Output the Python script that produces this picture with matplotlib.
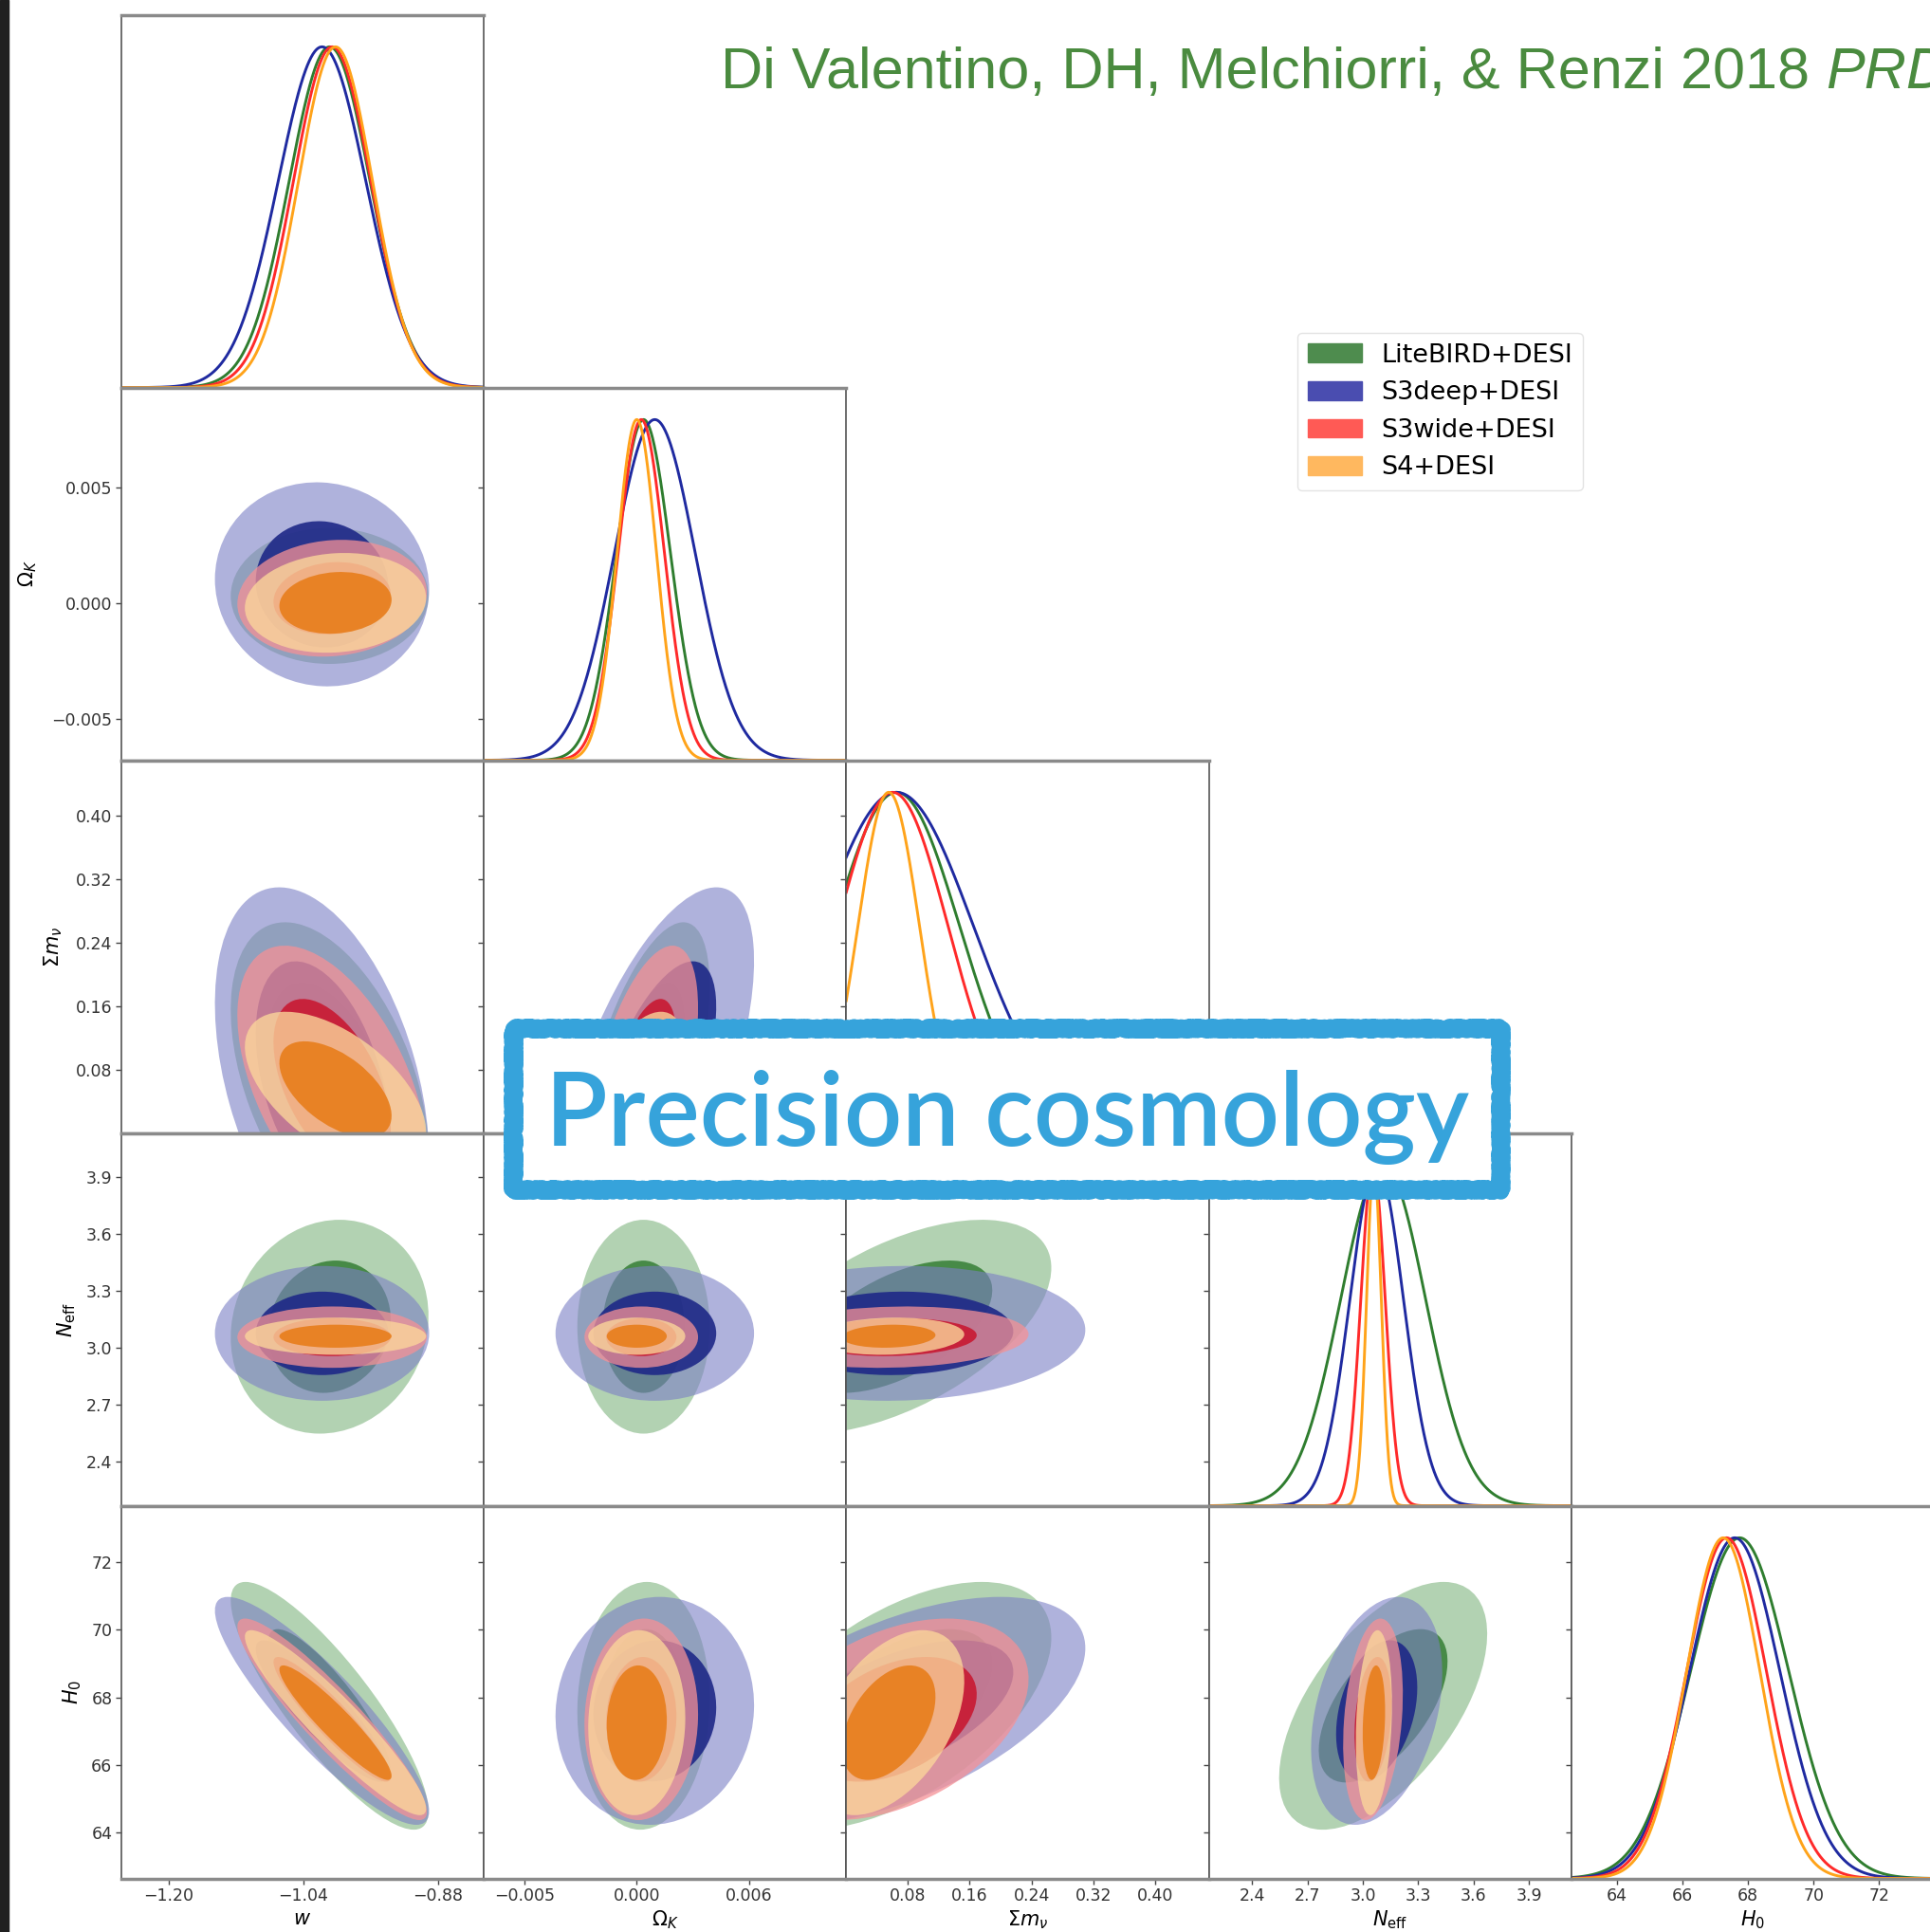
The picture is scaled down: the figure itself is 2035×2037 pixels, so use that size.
import numpy as np
import matplotlib
matplotlib.use('Agg')
import matplotlib.pyplot as plt
from matplotlib.patches import Ellipse, Rectangle, Patch

# parameters (rows/columns of the triangle)
param_labels = [r'$w$', r'$\Omega_K$', r'$\Sigma m_\nu$', r'$N_{\rm eff}$', r'$H_0$']
ranges = [(-1.257, -0.826), (-0.0068, 0.0093), (0.0, 0.47), (2.167, 4.13), (62.63, 73.68)]
ticks = [[-1.20, -1.04, -0.88], [-0.005, 0.0, 0.005], [0.08, 0.16, 0.24, 0.32, 0.40],
         [2.4, 2.7, 3.0, 3.3, 3.6, 3.9], [64, 66, 68, 70, 72]]
xtick_labels = [['\u22121.20', '\u22121.04', '\u22120.88'], ['\u22120.005', '0.000', '0.006'],
                ['0.08', '0.16', '0.24', '0.32', '0.40'], ['2.4', '2.7', '3.0', '3.3', '3.6', '3.9'],
                ['64', '66', '68', '70', '72']]
ytick_labels = [[], ['\u22120.005', '0.000', '0.005'], ['0.08', '0.16', '0.24', '0.32', '0.40'],
                ['2.4', '2.7', '3.0', '3.3', '3.6', '3.9'], ['64', '66', '68', '70', '72']]

datasets = ['LiteBIRD+DESI', 'S3deep+DESI', 'S3wide+DESI', 'S4+DESI']

# mean / sigma for (w, Omega_K, sum m_nu, N_eff, H0)
mean_litebird = [-1.009, 0.0003, 0.065, 3.11, 67.75]
mean_s3deep = [-1.018, 0.0008, 0.065, 3.075, 67.6]
mean_s3wide = [-1.006, 0.0002, 0.060, 3.055, 67.35]
mean_s4 = [-1.002, 0.0000, 0.055, 3.06, 67.25]

sigma_litebird = [0.048, 0.0012, 0.082, 0.23, 1.50]
sigma_s3deep = [0.052, 0.0018, 0.100, 0.145, 1.38]
sigma_s3wide = [0.046, 0.00103, 0.072, 0.066, 1.22]
sigma_s4 = [0.044, 0.00088, 0.040, 0.040, 1.12]

# correlations for the pairs below
pairs = [(1, 0), (2, 0), (2, 1), (3, 0), (3, 1), (3, 2), (4, 0), (4, 1), (4, 2), (4, 3)]
corr_litebird = [0.0, -0.45, 0.60, 0.10, 0.0, 0.55, -0.85, 0.05, 0.55, 0.58]
corr_s3deep = [-0.05, -0.40, 0.62, 0.0, 0.0, 0.05, -0.88, 0.05, 0.55, 0.33]
corr_s3wide = [0.10, -0.50, 0.55, 0.0, 0.0, 0.10, -0.92, 0.05, 0.40, 0.25]
corr_s4 = [0.10, -0.55, 0.50, 0.0, 0.0, 0.10, -0.93, 0.05, 0.45, 0.20]

means = [mean_litebird, mean_s3deep, mean_s3wide, mean_s4]
sigmas = [sigma_litebird, sigma_s3deep, sigma_s3wide, sigma_s4]
corrs = [dict(zip(pairs, c)) for c in [corr_litebird, corr_s3deep, corr_s3wide, corr_s4]]

outer_colors = ['#7fb47f', '#7b7fc5', '#f59196', '#fbd59a']
outer_alpha = [0.6, 0.6, 0.75, 0.8]
inner_colors = ['#3c823c', '#1e2887', '#c81932', '#e88020']
inner_alpha = [0.9, 0.9, 0.9, 0.95]
line_colors = ['#2f7d2f', '#1f2aa0', '#ff2a2a', '#ffa31a']
legend_colors = ['#4e8c4e', '#4a4db0', '#ff5a55', '#ffb85f']

R1, R2 = 1.515, 2.448   # 68% / 95% radii for 2D gaussian

W, H = 2035.0, 2037.0
col_left0, col_w = 127.5, 382.4
row_top0, row_h = 15.6, 393.0
ylabel_x = [0, -0.225, -0.155, -0.119, -0.102]
DIAG_TOP = 1.094

plt.rcParams['font.family'] = ['DejaVu Sans']
plt.rcParams['mathtext.fontset'] = 'dejavusans'

fig = plt.figure(figsize=(20.35, 20.37), dpi=100)


def ellipse(ax, mx, my, sx, sy, rho, r, **kw):
    cov = np.array([[sx * sx, rho * sx * sy], [rho * sx * sy, sy * sy]])
    vals, vecs = np.linalg.eigh(cov)
    ang = np.degrees(np.arctan2(vecs[1, 1], vecs[0, 1]))
    e = Ellipse((mx, my), 2 * r * np.sqrt(vals[1]), 2 * r * np.sqrt(vals[0]), angle=ang, lw=0, **kw)
    ax.add_patch(e)


n = 5
for i in range(n):
    for j in range(i + 1):
        left = (col_left0 + j * col_w) / W
        bottom = 1 - (row_top0 + (i + 1) * row_h) / H
        ax = fig.add_axes([left, bottom, col_w / W, row_h / H])
        ax.set_xlim(ranges[j])
        ax.set_xticks(ticks[j])
        if i == n - 1:
            ax.set_xticklabels(xtick_labels[j])
            ax.set_xlabel(param_labels[j], fontsize=15)
            ax.xaxis.set_label_coords(0.5, -0.082)
        else:
            ax.set_xticklabels([])

        if i == j:
            x = np.linspace(ranges[j][0], ranges[j][1], 600)
            for k in range(4):
                y = np.exp(-0.5 * ((x - means[k][j]) / sigmas[k][j]) ** 2)
                ax.plot(x, y, color=line_colors[k], lw=2.1)
            ax.set_ylim(0, DIAG_TOP)
            if i == 0:
                ax.set_yticks([])
            else:
                lo, hi = ranges[i]
                ax.set_yticks([(t - lo) / (hi - lo) * DIAG_TOP for t in ticks[i]])
                ax.set_yticklabels([])
        else:
            ax.set_ylim(ranges[i])
            ax.set_yticks(ticks[i])
            for k in range(4):
                mx, my = means[k][j], means[k][i]
                sx, sy = sigmas[k][j], sigmas[k][i]
                rho = corrs[k][(i, j)]
                ellipse(ax, mx, my, sx, sy, rho, R2, facecolor=outer_colors[k], alpha=outer_alpha[k])
                ellipse(ax, mx, my, sx, sy, rho, R1, facecolor=inner_colors[k], alpha=inner_alpha[k])
            if j == 0:
                ax.set_yticklabels(ytick_labels[i])
                ax.set_ylabel(param_labels[i], fontsize=15)
                ax.yaxis.set_label_coords(ylabel_x[i], 0.5)
            else:
                ax.set_yticklabels([])

        ax.tick_params(direction='out', length=4, width=1, colors='#444444',
                       labelsize=12.5, labelcolor='#333333', pad=2.5)
        for s in ['left', 'right']:
            ax.spines[s].set_color('#555555')
            ax.spines[s].set_linewidth(1.2)
        for s in ['top', 'bottom']:
            ax.spines[s].set_color('#8a8a8a')
            ax.spines[s].set_linewidth(2.5)

# legend
handles = [Patch(facecolor=c, edgecolor=c) for c in legend_colors]
fig.legend(handles, datasets, loc='upper left', bbox_to_anchor=(1368 / W, 1 - 351 / H),
           fontsize=19.5, frameon=True, fancybox=True, edgecolor='#dddddd',
           handlelength=2.1, handleheight=0.75, labelspacing=0.5, borderpad=0.4,
           handletextpad=0.75, borderaxespad=0.0)

# citation text
cite = fig.text(760 / W, 1 - 93 / H, 'Di Valentino, DH, Melchiorri, & Renzi 2018',
                fontsize=44, family='Liberation Sans', color='#4a8b3f', ha='left', va='baseline')
renderer = fig.canvas.get_renderer()
bb = cite.get_window_extent(renderer=renderer)
fig.text((bb.x1 + 0.278 * 44 * 100 / 72) / W, 1 - 93 / H, 'PRD', fontsize=44,
         family='Liberation Sans', style='italic', color='#4a8b3f', ha='left', va='baseline')

# title box with a rough border
box = Rectangle((540.6 / W, 1 - 1254 / H), (1581.8 - 540.6) / W, (1254 - 1084) / H,
                transform=fig.transFigure, facecolor='white', edgecolor='#36a3db', lw=12.5,
                joinstyle='round', capstyle='round', zorder=10)
box.set_sketch_params(scale=1.8, length=2.5, randomness=4)
fig.patches.append(box)
fig.text(1062 / W, 1 - 1208.3 / H, 'Precision cosmology', fontsize=77.5, family='Lato',
         fontweight='semibold', color='#36a3db', ha='center', va='baseline', zorder=11)

# dark strip at the left edge
fig.patches.append(Rectangle((0, 0), 9 / W, 1, transform=fig.transFigure, color='#202020', zorder=12))

fig.savefig('out.png', dpi=100)
